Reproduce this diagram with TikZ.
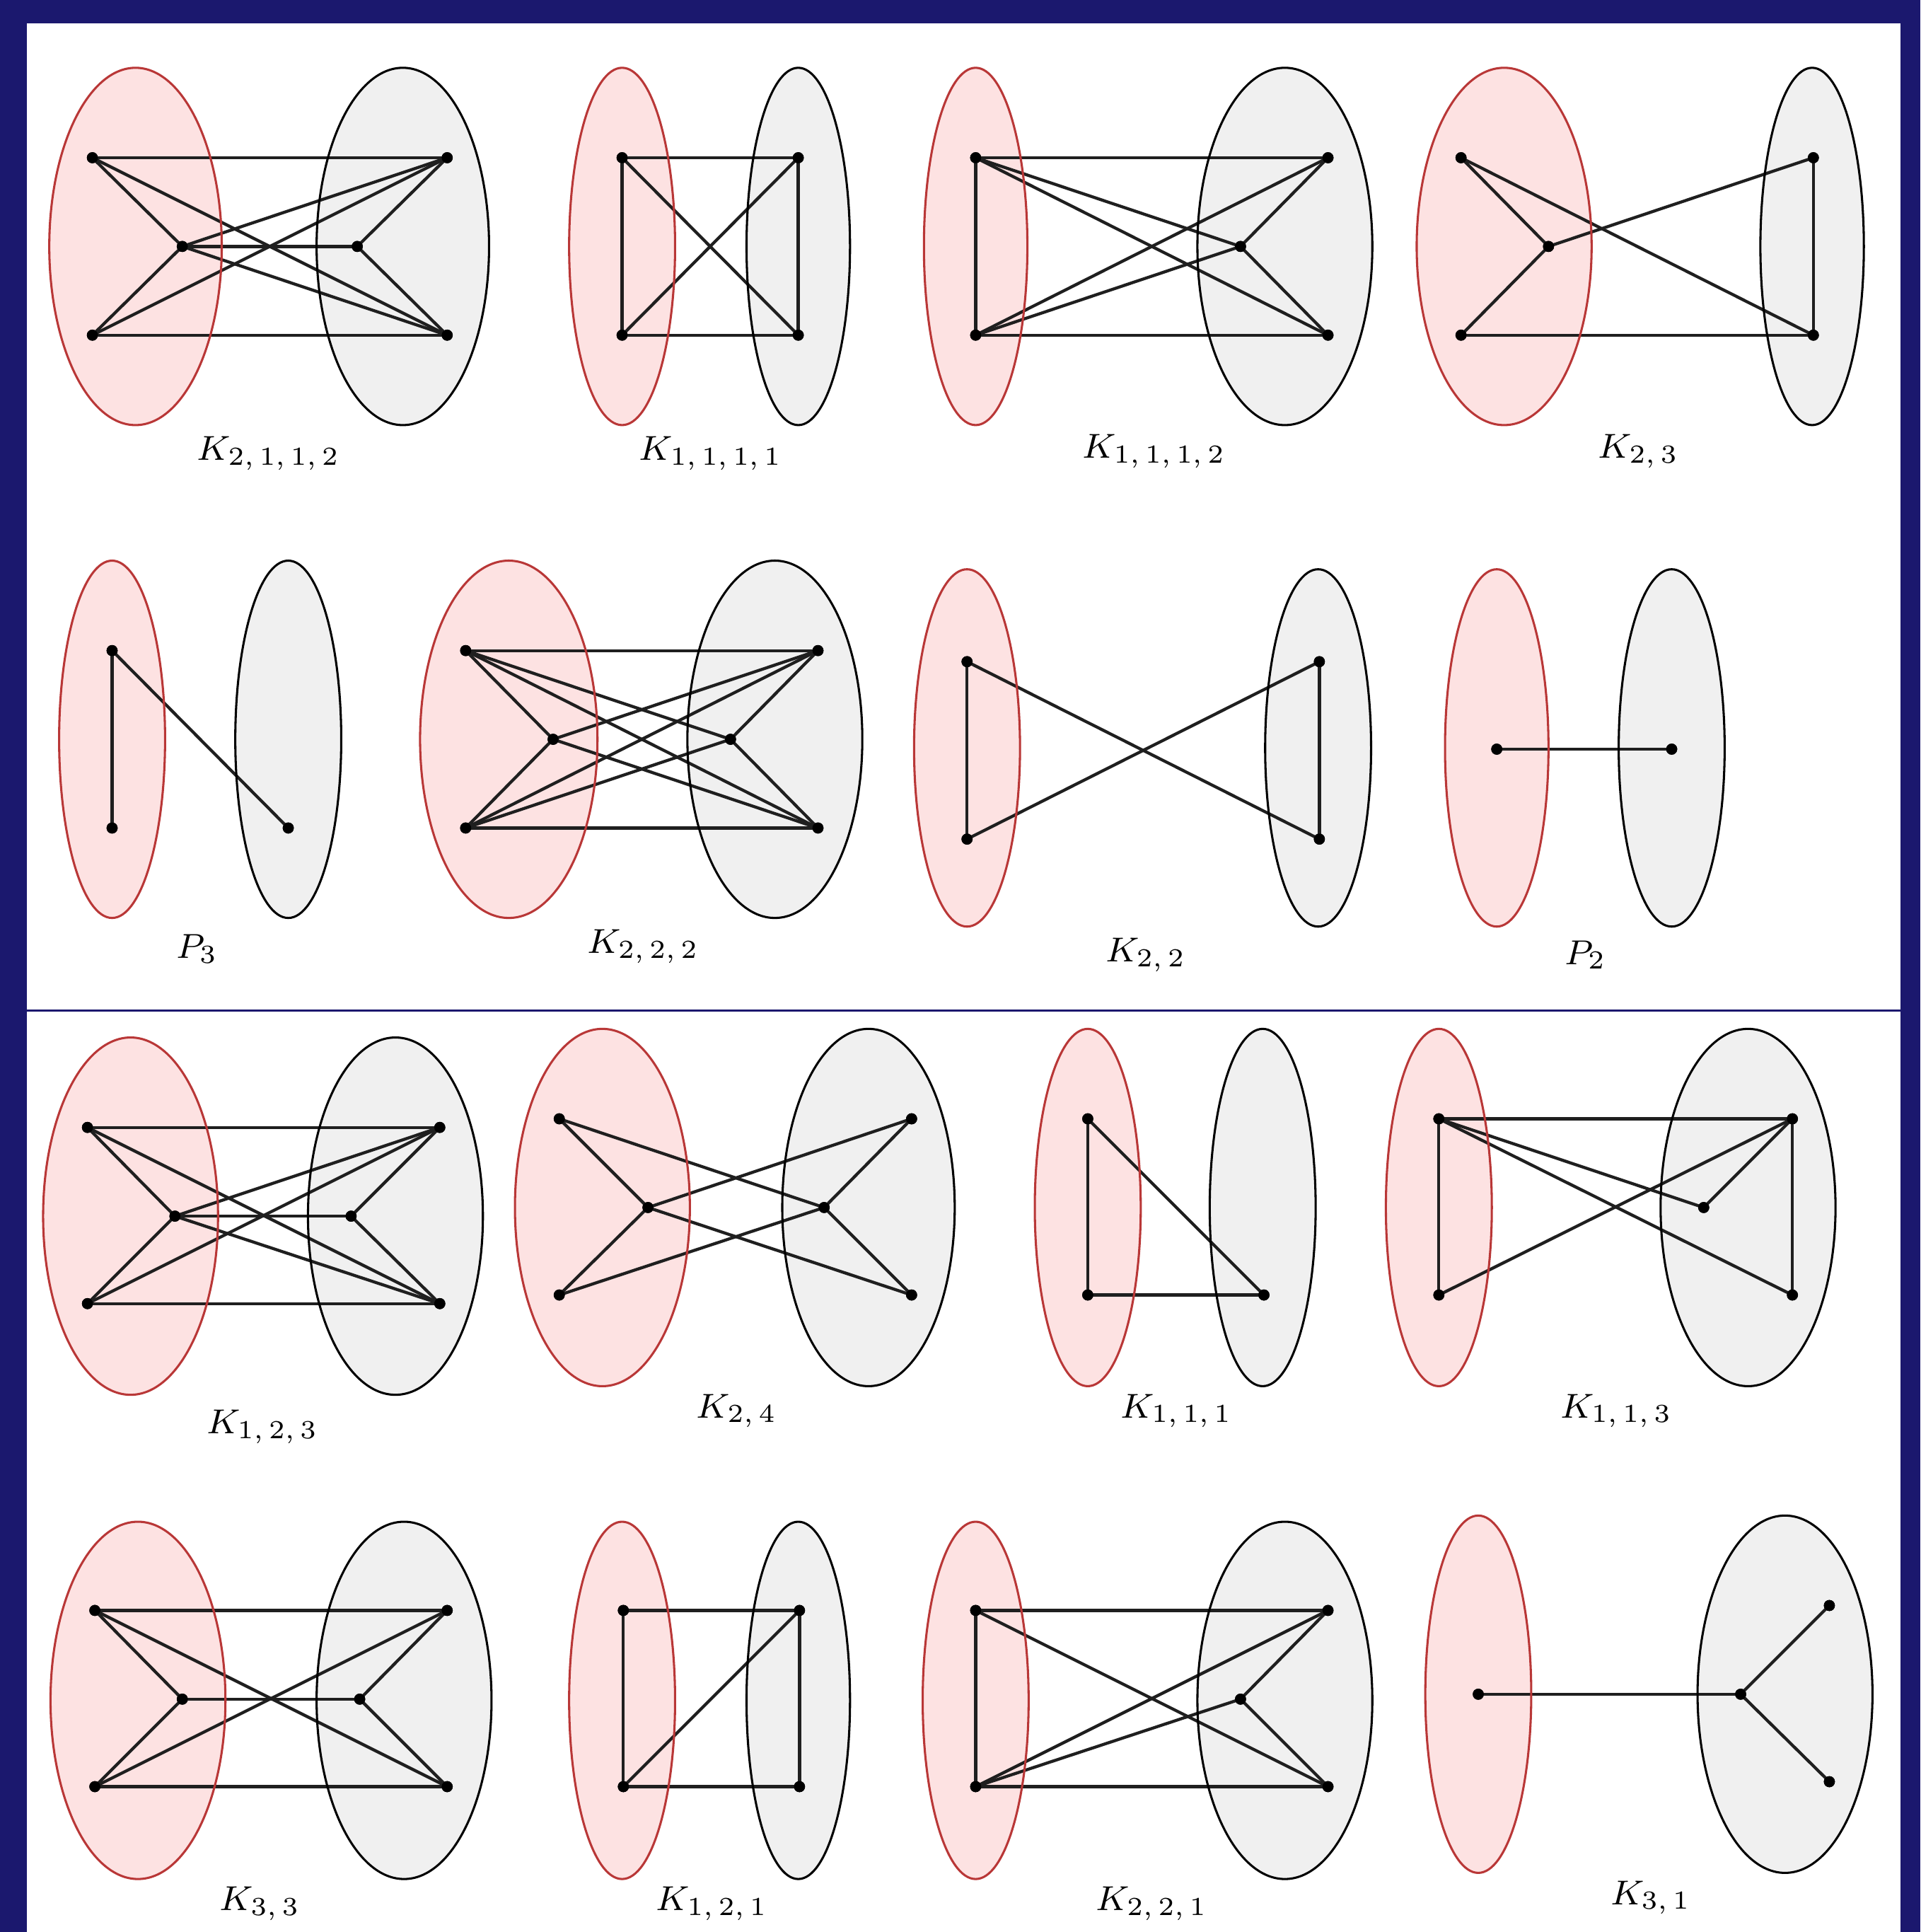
\documentclass[tikz,border=0pt]{standalone}
\usepackage{tikz}
\definecolor{navy}{RGB}{27,24,110}
\definecolor{pinkfill}{RGB}{253,226,226}
\definecolor{pinkline}{RGB}{185,55,55}
\definecolor{grayfill}{RGB}{240,240,240}
\begin{document}
\begin{tikzpicture}[x=0.1mm,y=-0.1mm,
  vtx/.style={circle,fill=black,inner sep=0pt,minimum size=0.9mm},
  lnk/.style={draw=black!88,line width=0.7pt},
  lbl/.style={font=\fontsize{8}{10}\selectfont,inner sep=0pt},
  redset/.style={draw=pinkline,line width=0.5pt},
  grayset/.style={draw=black,line width=0.5pt}]
\fill[navy] (0,0) rectangle (1559,1568);
\useasboundingbox (0,0) rectangle (1559,1568);
\fill[white] (22,19) rectangle (1543,819.5);
\fill[white] (22,821) rectangle (1543,1568);
% ellipse fills
\foreach \cx/\cy/\rx in {110/200/70,505/200/43,792/200/42,1221/200/71,
  91/600/43,413/600/72,785/607/43,1215/607/42,
  106/987/71,489/980/71,883/980/43,1168/980/43,
  112/1380/71,505/1380/43,792/1380/43,1200/1375/43}
  \fill[pinkfill] (\cx,\cy) ellipse [x radius=\rx, y radius=145];
\foreach \cx/\cy/\rx in {327/200/70,648/200/42,1043/200/71,1471/200/42,
  234/600/43,629/600/71,1070/607/43,1357/607/43,
  321/987/71,705/980/70,1025/980/43,1419/980/71,
  328/1380/71,648/1380/42,1043/1380/71,1449/1375/71}
  \fill[grayfill] (\cx,\cy) ellipse [x radius=\rx, y radius=145];
% ---- vertices
% G1
\node[vtx] (a1) at (75,128) {}; \node[vtx] (a2) at (75,272) {}; \node[vtx] (a3) at (148,200) {};
\node[vtx] (a4) at (290,200) {}; \node[vtx] (a5) at (363,128) {}; \node[vtx] (a6) at (363,272) {};
% G2
\node[vtx] (b1) at (505,128) {}; \node[vtx] (b2) at (505,272) {};
\node[vtx] (b3) at (648,128) {}; \node[vtx] (b4) at (648,272) {};
% G3
\node[vtx] (c1) at (792,128) {}; \node[vtx] (c2) at (792,272) {}; \node[vtx] (c3) at (1007,200) {};
\node[vtx] (c4) at (1078,128) {}; \node[vtx] (c5) at (1078,272) {};
% G4
\node[vtx] (d1) at (1186,128) {}; \node[vtx] (d2) at (1186,272) {}; \node[vtx] (d3) at (1257,200) {};
\node[vtx] (d4) at (1472,128) {}; \node[vtx] (d5) at (1472,272) {};
% G5
\node[vtx] (e1) at (91,528) {}; \node[vtx] (e2) at (91,672) {}; \node[vtx] (e3) at (234,672) {};
% G6
\node[vtx] (f1) at (378,528) {}; \node[vtx] (f2) at (378,672) {}; \node[vtx] (f3) at (449,600) {};
\node[vtx] (f4) at (593,600) {}; \node[vtx] (f5) at (664,528) {}; \node[vtx] (f6) at (664,672) {};
% G7
\node[vtx] (g1) at (785,537) {}; \node[vtx] (g2) at (785,681) {};
\node[vtx] (g3) at (1071,537) {}; \node[vtx] (g4) at (1071,681) {};
% G8
\node[vtx] (h1) at (1215,608) {}; \node[vtx] (h2) at (1357,608) {};
% G9
\node[vtx] (i1) at (71,915) {}; \node[vtx] (i2) at (71,1058) {}; \node[vtx] (i3) at (142,987) {};
\node[vtx] (i4) at (285,987) {}; \node[vtx] (i5) at (357,915) {}; \node[vtx] (i6) at (357,1058) {};
% G10
\node[vtx] (j1) at (454,908) {}; \node[vtx] (j2) at (454,1051) {}; \node[vtx] (j3) at (526,980) {};
\node[vtx] (j4) at (669,980) {}; \node[vtx] (j5) at (740,908) {}; \node[vtx] (j6) at (740,1051) {};
% G11
\node[vtx] (k1) at (883,908) {}; \node[vtx] (k2) at (883,1051) {}; \node[vtx] (k3) at (1026,1051) {};
% G12
\node[vtx] (l1) at (1168,908) {}; \node[vtx] (l2) at (1168,1051) {}; \node[vtx] (l3) at (1383,980) {};
\node[vtx] (l4) at (1455,908) {}; \node[vtx] (l5) at (1455,1051) {};
% G13
\node[vtx] (m1) at (77,1307) {}; \node[vtx] (m2) at (77,1450) {}; \node[vtx] (m3) at (148,1379) {};
\node[vtx] (m4) at (292,1379) {}; \node[vtx] (m5) at (363,1307) {}; \node[vtx] (m6) at (363,1450) {};
% G14
\node[vtx] (n1) at (506,1307) {}; \node[vtx] (n2) at (506,1450) {};
\node[vtx] (n3) at (649,1307) {}; \node[vtx] (n4) at (649,1450) {};
% G15
\node[vtx] (o1) at (792,1307) {}; \node[vtx] (o2) at (792,1450) {}; \node[vtx] (o3) at (1007,1379) {};
\node[vtx] (o4) at (1078,1307) {}; \node[vtx] (o5) at (1078,1450) {};
% G16
\node[vtx] (p1) at (1200,1375) {}; \node[vtx] (p2) at (1413,1375) {};
\node[vtx] (p3) at (1485,1303) {}; \node[vtx] (p4) at (1485,1446) {};
% ---- edges
\foreach \u/\v in {a1/a5,a2/a6,a1/a3,a1/a6,a2/a3,a2/a5,a3/a5,a3/a6,a3/a4,a4/a5,a4/a6,
  b1/b3,b2/b4,b1/b2,b3/b4,b1/b4,b2/b3,
  c1/c4,c2/c5,c1/c2,c1/c5,c2/c4,c1/c3,c2/c3,c3/c4,c3/c5,
  d1/d3,d2/d3,d3/d4,d1/d5,d2/d5,d4/d5,
  e1/e2,e1/e3,
  f1/f5,f2/f6,f1/f3,f1/f4,f1/f6,f2/f3,f2/f4,f2/f5,f5/f3,f5/f4,f6/f3,f6/f4,
  g1/g2,g3/g4,g1/g4,g2/g3,
  h1/h2,
  i1/i5,i2/i6,i1/i3,i1/i6,i3/i6,i3/i4,i2/i3,i2/i5,i3/i5,i4/i5,i4/i6,
  j1/j3,j1/j4,j2/j3,j2/j4,j3/j5,j3/j6,j4/j5,j4/j6,
  k1/k2,k1/k3,k2/k3,
  l1/l4,l1/l2,l4/l5,l1/l3,l1/l5,l2/l4,l3/l4,
  m1/m5,m2/m6,m1/m3,m1/m6,m2/m3,m2/m5,m3/m4,m4/m5,m4/m6,
  n1/n3,n2/n4,n1/n2,n3/n4,n2/n3,
  o1/o2,o1/o4,o2/o5,o1/o5,o2/o4,o2/o3,o3/o4,o3/o5,
  p1/p2,p2/p3,p2/p4}
  \draw[lnk] (\u.center) -- (\v.center);
% ellipse outlines
\foreach \cx/\cy/\rx in {110/200/70,505/200/43,792/200/42,1221/200/71,
  91/600/43,413/600/72,785/607/43,1215/607/42,
  106/987/71,489/980/71,883/980/43,1168/980/43,
  112/1380/71,505/1380/43,792/1380/43,1200/1375/43}
  \draw[redset] (\cx,\cy) ellipse [x radius=\rx, y radius=145];
\foreach \cx/\cy/\rx in {327/200/70,648/200/42,1043/200/71,1471/200/42,
  234/600/43,629/600/71,1070/607/43,1357/607/43,
  321/987/71,705/980/70,1025/980/43,1419/980/71,
  328/1380/71,648/1380/42,1043/1380/71,1449/1375/71}
  \draw[grayset] (\cx,\cy) ellipse [x radius=\rx, y radius=145];
% vertex dots on top
\foreach \v in {a1,a2,a3,a4,a5,a6,b1,b2,b3,b4,c1,c2,c3,c4,c5,d1,d2,d3,d4,d5,
  e1,e2,e3,f1,f2,f3,f4,f5,f6,g1,g2,g3,g4,h1,h2,i1,i2,i3,i4,i5,i6,
  j1,j2,j3,j4,j5,j6,k1,k2,k3,l1,l2,l3,l4,l5,m1,m2,m3,m4,m5,m6,
  n1,n2,n3,n4,o1,o2,o3,o4,o5,p1,p2,p3,p4}
  \fill (\v.center) circle [radius=0.45mm];
% ---- labels
\node[lbl] (t1) at (218,368) {$K_{2,\,1,\,1,\,2}$};
\node[lbl] (t2) at (577,368) {$K_{1,\,1,\,1,\,1}$};
\node[lbl] (t3) at (937,366) {$K_{1,\,1,\,1,\,2}$};
\node[lbl] (t4) at (1330,366) {$K_{2,\,3}$};
\node[lbl] (t5) at (160,770) {$P_3$};
\node[lbl] (t6) at (522,768) {$K_{2,\,2,\,2}$};
\node[lbl] (t7) at (930,775) {$K_{2,\,2}$};
\node[lbl] (t8) at (1287,775) {$P_2$};
\node[lbl] (t9) at (213,1158) {$K_{1,\,2,\,3}$};
\node[lbl] (t10) at (598,1145) {$K_{2,\,4}$};
\node[lbl] (t11) at (955,1145) {$K_{1,\,1,\,1}$};
\node[lbl] (t12) at (1312,1145) {$K_{1,\,1,\,3}$};
\node[lbl] (t13) at (211,1545) {$K_{3,\,3}$};
\node[lbl] (t14) at (578,1545) {$K_{1,\,2,\,1}$};
\node[lbl] (t15) at (935,1545) {$K_{2,\,2,\,1}$};
\node[lbl] (t16) at (1340,1540) {$K_{3,\,1}$};
\end{tikzpicture}
\end{document}
